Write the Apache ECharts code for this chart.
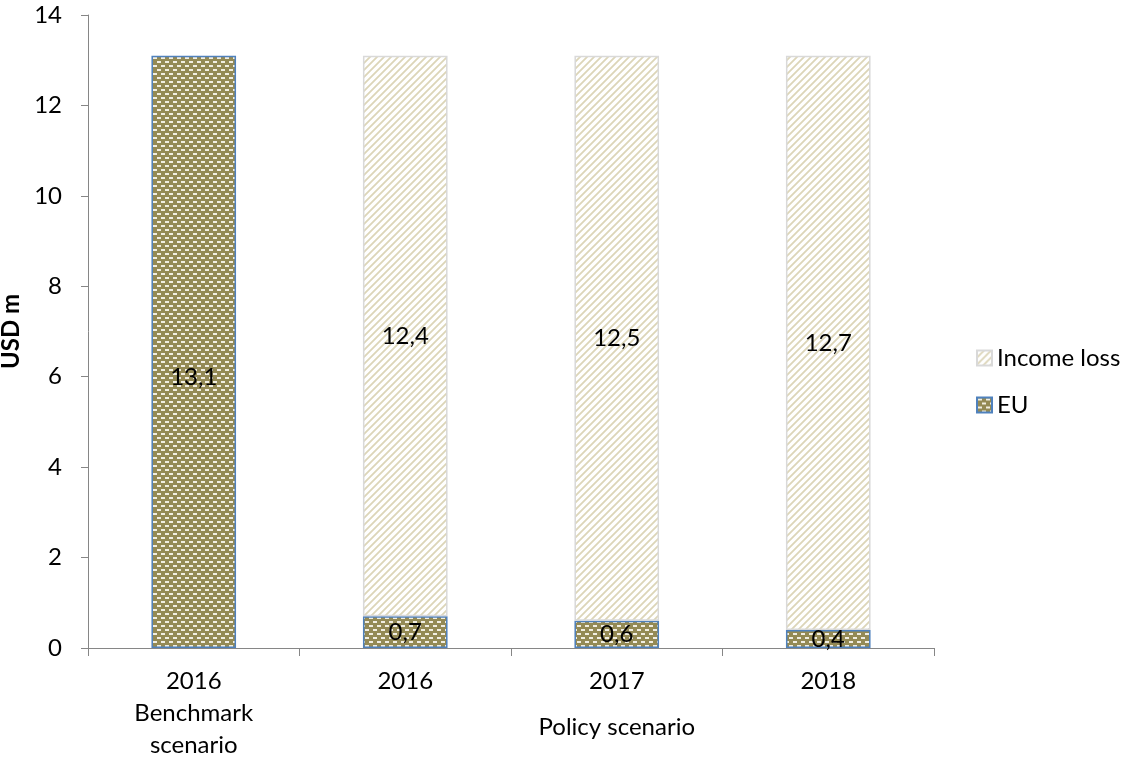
<!DOCTYPE html>
<html>
<head>
<meta charset="utf-8">
<title>EU vs income loss</title>
<script src="https://cdn.jsdelivr.net/npm/echarts@6/dist/echarts.min.js"></script>
<style>
html, body { margin: 0; padding: 0; background: #fff; }
#chart { width: 1126px; height: 758px; }
</style>
</head>
<body>
<div id="chart"></div>
<script>
// data
var years = ['2016', '2016', '2017', '2018'];
var groupNames = ['Benchmark\nscenario', '', 'Policy scenario', ''];
var euValues = [13.1, 0.7, 0.6, 0.4];
var incomeLoss = ['-', 12.4, 12.5, 12.7];
var yTicks = { min: 0, max: 14, interval: 2 };

var FONT = 'Lato';
var FS = 24;

// dotted olive fill for EU
function dotPattern() {
	var c = document.createElement('canvas');
	c.width = 8; c.height = 8;
	var ctx = c.getContext('2d');
	ctx.fillStyle = '#948a55';
	ctx.fillRect(0, 0, 8, 8);
	ctx.fillStyle = '#f1eee2';
	ctx.fillRect(1, 1, 4, 2);
	ctx.fillRect(5, 5, 3, 2);
	ctx.fillRect(0, 5, 1, 2);
	return c;
}

// light diagonal hatch for income loss
function hatchPattern() {
	var c = document.createElement('canvas');
	c.width = 7; c.height = 7;
	var ctx = c.getContext('2d');
	ctx.fillStyle = '#ffffff';
	ctx.fillRect(0, 0, 7, 7);
	ctx.strokeStyle = '#dcd5b8';
	ctx.lineWidth = 1.8;
	ctx.beginPath();
	ctx.moveTo(-1, 8); ctx.lineTo(8, -1);
	ctx.moveTo(-1, 1); ctx.lineTo(1, -1);
	ctx.moveTo(6, 8); ctx.lineTo(8, 6);
	ctx.stroke();
	return c;
}

function fmt(p) {
	return String(p.value).replace('.', ',');
}

// the benchmark label sits a little lower in the original
var euData = euValues.map(function (v, i) {
	return i === 0 ? { value: v, label: { offset: [0, 25] } } : v;
});

var chart = echarts.init(document.getElementById('chart'));

var option = {
	animation: false,
	textStyle: { fontFamily: FONT },
	grid: { left: 88, right: 192, top: 15, bottom: 110, outerBoundsMode: 'none', containLabel: false },
	legend: {
		orient: 'vertical',
		left: 976,
		top: 346,
		padding: 0,
		itemWidth: 15,
		itemHeight: 15,
		itemGap: 23,
		icon: 'rect',
		data: ['Income loss', 'EU'],
		textStyle: { fontFamily: FONT, fontSize: FS, color: '#000' }
	},
	xAxis: {
		type: 'category',
		data: years,
		axisLine: { lineStyle: { color: '#868686', width: 1 } },
		axisTick: { show: true, length: 8, lineStyle: { color: '#868686' } },
		axisLabel: {
			margin: 17,
			interval: 0,
			color: '#000',
			fontFamily: FONT,
			fontSize: FS,
			lineHeight: 32,
			formatter: function (v, i) {
				var g = groupNames[i];
				if (!g) return v;
				if (i === 0) return v + '\n' + g;
				return v + '\n{p|' + g + '}';
			},
			rich: {
				p: { fontFamily: FONT, fontSize: FS, color: '#000', lineHeight: 60 }
			}
		}
	},
	yAxis: {
		type: 'value',
		min: yTicks.min,
		max: yTicks.max,
		interval: yTicks.interval,
		name: 'USD m',
		nameLocation: 'middle',
		nameRotate: 90,
		nameGap: 63,
		nameTextStyle: { fontFamily: FONT, fontSize: FS, fontWeight: 'bold', color: '#000' },
		axisLine: { show: true, lineStyle: { color: '#868686', width: 1 } },
		axisTick: { show: true, length: 7, lineStyle: { color: '#868686' } },
		axisLabel: { margin: 26, color: '#000', fontFamily: FONT, fontSize: FS },
		splitLine: { show: false }
	},
	series: [
		{
			name: 'EU',
			type: 'bar',
			stack: 'total',
			barWidth: '40%',
			data: euData,
			itemStyle: {
				color: { image: dotPattern(), repeat: 'repeat' },
				borderColor: '#4f81bd',
				borderWidth: 1.5
			},
			label: {
				show: true,
				position: 'inside',
				formatter: fmt,
				color: '#000',
				fontFamily: FONT,
				fontSize: FS
			}
		},
		{
			name: 'Income loss',
			type: 'bar',
			stack: 'total',
			barWidth: '40%',
			data: incomeLoss,
			itemStyle: {
				color: { image: hatchPattern(), repeat: 'repeat' },
				borderColor: '#d9d9d9',
				borderWidth: 1.5
			},
			label: {
				show: true,
				position: 'inside',
				formatter: fmt,
				color: '#000',
				fontFamily: FONT,
				fontSize: FS
			}
		}
	]
};

chart.setOption(option);
window.addEventListener('resize', function () { chart.resize(); });
</script>
</body>
</html>
